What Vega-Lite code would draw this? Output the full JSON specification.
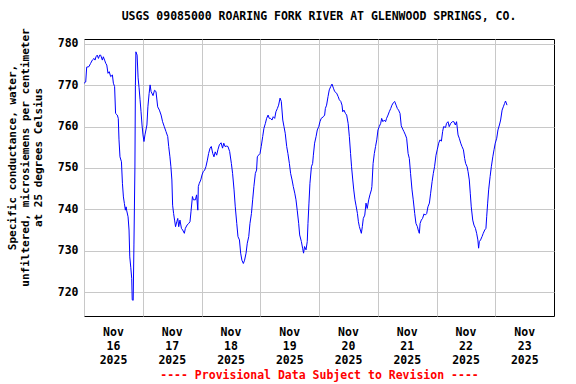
{
  "$schema": "https://vega.github.io/schema/vega-lite/v6.json",
  "width": 470,
  "height": 277,
  "autosize": {"type": "none"},
  "padding": {"left": 84, "top": 39, "right": 22, "bottom": 68},
  "background": "white",
  "title": {
    "text": "USGS 09085000 ROARING FORK RIVER AT GLENWOOD SPRINGS, CO.",
    "font": "DejaVu Sans Mono",
    "fontSize": 11.5,
    "fontWeight": "bold",
    "color": "black",
    "anchor": "middle",
    "offset": 5
  },
  "config": {
    "view": {"stroke": "black", "strokeWidth": 1},
    "axis": {
      "labelFont": "DejaVu Sans Mono",
      "labelFontWeight": "bold",
      "labelFontSize": 11.5,
      "labelColor": "black",
      "titleFont": "DejaVu Sans Mono",
      "titleFontWeight": "bold",
      "titleFontSize": 11,
      "titleColor": "black",
      "gridColor": "#c8c8c8",
      "gridWidth": 1,
      "gridOpacity": 1,
      "ticks": false,
      "domain": false
    }
  },
  "data": {
    "values": [
      {"t": "2025-11-16T00:00", "v": 770.5},
      {"t": "2025-11-16T00:42", "v": 770.8},
      {"t": "2025-11-16T01:06", "v": 774.4},
      {"t": "2025-11-16T02:00", "v": 774.5},
      {"t": "2025-11-16T02:42", "v": 775.3},
      {"t": "2025-11-16T03:24", "v": 776.1},
      {"t": "2025-11-16T04:06", "v": 776.5},
      {"t": "2025-11-16T04:30", "v": 776.1},
      {"t": "2025-11-16T04:54", "v": 776.9},
      {"t": "2025-11-16T05:24", "v": 777.3},
      {"t": "2025-11-16T05:54", "v": 776.5},
      {"t": "2025-11-16T06:24", "v": 777.3},
      {"t": "2025-11-16T06:48", "v": 777.3},
      {"t": "2025-11-16T07:30", "v": 776.1},
      {"t": "2025-11-16T07:54", "v": 776.9},
      {"t": "2025-11-16T08:24", "v": 776.1},
      {"t": "2025-11-16T08:54", "v": 775.3},
      {"t": "2025-11-16T09:18", "v": 774.9},
      {"t": "2025-11-16T09:48", "v": 772.9},
      {"t": "2025-11-16T10:18", "v": 773.3},
      {"t": "2025-11-16T10:54", "v": 772.1},
      {"t": "2025-11-16T11:36", "v": 772.5},
      {"t": "2025-11-16T12:00", "v": 770.5},
      {"t": "2025-11-16T12:30", "v": 769.7},
      {"t": "2025-11-16T12:54", "v": 763.2},
      {"t": "2025-11-16T13:36", "v": 762.8},
      {"t": "2025-11-16T14:00", "v": 762.0},
      {"t": "2025-11-16T14:18", "v": 756.8},
      {"t": "2025-11-16T14:42", "v": 752.7},
      {"t": "2025-11-16T15:18", "v": 751.5},
      {"t": "2025-11-16T15:42", "v": 746.3},
      {"t": "2025-11-16T16:06", "v": 743.0},
      {"t": "2025-11-16T16:30", "v": 741.4},
      {"t": "2025-11-16T16:54", "v": 739.8},
      {"t": "2025-11-16T17:12", "v": 740.6},
      {"t": "2025-11-16T17:24", "v": 739.8},
      {"t": "2025-11-16T18:00", "v": 738.2},
      {"t": "2025-11-16T18:24", "v": 735.0},
      {"t": "2025-11-16T18:42", "v": 728.5},
      {"t": "2025-11-16T19:06", "v": 726.0},
      {"t": "2025-11-16T19:30", "v": 723.3},
      {"t": "2025-11-16T19:42", "v": 718.1},
      {"t": "2025-11-16T20:06", "v": 718.0},
      {"t": "2025-11-16T20:24", "v": 731.6},
      {"t": "2025-11-16T20:48", "v": 750.0},
      {"t": "2025-11-16T21:00", "v": 770.0},
      {"t": "2025-11-16T21:12", "v": 778.1},
      {"t": "2025-11-16T21:42", "v": 777.3},
      {"t": "2025-11-16T22:06", "v": 771.8},
      {"t": "2025-11-16T22:30", "v": 769.4},
      {"t": "2025-11-16T22:54", "v": 766.5},
      {"t": "2025-11-16T23:18", "v": 763.6},
      {"t": "2025-11-16T23:42", "v": 760.4},
      {"t": "2025-11-17T00:06", "v": 758.0},
      {"t": "2025-11-17T00:30", "v": 756.4},
      {"t": "2025-11-17T00:54", "v": 758.0},
      {"t": "2025-11-17T01:42", "v": 760.4},
      {"t": "2025-11-17T02:06", "v": 764.8},
      {"t": "2025-11-17T02:36", "v": 768.0},
      {"t": "2025-11-17T03:00", "v": 770.1},
      {"t": "2025-11-17T03:24", "v": 768.5},
      {"t": "2025-11-17T04:12", "v": 767.5},
      {"t": "2025-11-17T04:48", "v": 768.8},
      {"t": "2025-11-17T05:24", "v": 768.5},
      {"t": "2025-11-17T06:06", "v": 764.8},
      {"t": "2025-11-17T06:48", "v": 764.0},
      {"t": "2025-11-17T07:30", "v": 762.8},
      {"t": "2025-11-17T08:06", "v": 761.2},
      {"t": "2025-11-17T08:48", "v": 760.0},
      {"t": "2025-11-17T09:30", "v": 758.8},
      {"t": "2025-11-17T10:12", "v": 757.6},
      {"t": "2025-11-17T10:36", "v": 755.2},
      {"t": "2025-11-17T11:06", "v": 752.7},
      {"t": "2025-11-17T11:30", "v": 750.3},
      {"t": "2025-11-17T11:54", "v": 747.1},
      {"t": "2025-11-17T12:12", "v": 741.0},
      {"t": "2025-11-17T12:36", "v": 739.0},
      {"t": "2025-11-17T13:00", "v": 737.4},
      {"t": "2025-11-17T13:24", "v": 735.8},
      {"t": "2025-11-17T13:54", "v": 737.0},
      {"t": "2025-11-17T14:18", "v": 737.8},
      {"t": "2025-11-17T14:42", "v": 735.8},
      {"t": "2025-11-17T15:12", "v": 737.4},
      {"t": "2025-11-17T15:48", "v": 735.4},
      {"t": "2025-11-17T16:18", "v": 735.0},
      {"t": "2025-11-17T17:00", "v": 734.2},
      {"t": "2025-11-17T17:24", "v": 735.4},
      {"t": "2025-11-17T18:06", "v": 736.2},
      {"t": "2025-11-17T18:48", "v": 736.6},
      {"t": "2025-11-17T19:18", "v": 737.0},
      {"t": "2025-11-17T19:42", "v": 739.4},
      {"t": "2025-11-17T20:18", "v": 743.1},
      {"t": "2025-11-17T20:42", "v": 742.3},
      {"t": "2025-11-17T21:30", "v": 742.3},
      {"t": "2025-11-17T22:00", "v": 743.5},
      {"t": "2025-11-17T22:30", "v": 739.8},
      {"t": "2025-11-17T22:42", "v": 745.5},
      {"t": "2025-11-17T23:06", "v": 746.3},
      {"t": "2025-11-17T23:42", "v": 747.1},
      {"t": "2025-11-18T00:12", "v": 748.3},
      {"t": "2025-11-18T00:42", "v": 749.1},
      {"t": "2025-11-18T01:18", "v": 749.5},
      {"t": "2025-11-18T01:48", "v": 750.3},
      {"t": "2025-11-18T02:24", "v": 751.9},
      {"t": "2025-11-18T02:54", "v": 753.5},
      {"t": "2025-11-18T03:30", "v": 754.8},
      {"t": "2025-11-18T04:00", "v": 755.2},
      {"t": "2025-11-18T04:36", "v": 753.5},
      {"t": "2025-11-18T05:06", "v": 752.7},
      {"t": "2025-11-18T05:36", "v": 753.9},
      {"t": "2025-11-18T06:12", "v": 753.1},
      {"t": "2025-11-18T06:42", "v": 754.4},
      {"t": "2025-11-18T07:18", "v": 755.6},
      {"t": "2025-11-18T08:00", "v": 756.1},
      {"t": "2025-11-18T08:36", "v": 754.8},
      {"t": "2025-11-18T09:06", "v": 756.0},
      {"t": "2025-11-18T09:36", "v": 755.2},
      {"t": "2025-11-18T10:18", "v": 755.3},
      {"t": "2025-11-18T10:48", "v": 755.2},
      {"t": "2025-11-18T11:30", "v": 754.0},
      {"t": "2025-11-18T12:12", "v": 751.1},
      {"t": "2025-11-18T12:42", "v": 748.7},
      {"t": "2025-11-18T13:18", "v": 744.7},
      {"t": "2025-11-18T13:48", "v": 740.6},
      {"t": "2025-11-18T14:24", "v": 736.6},
      {"t": "2025-11-18T14:54", "v": 733.4},
      {"t": "2025-11-18T15:30", "v": 732.6},
      {"t": "2025-11-18T16:00", "v": 729.4},
      {"t": "2025-11-18T16:30", "v": 727.7},
      {"t": "2025-11-18T17:06", "v": 726.9},
      {"t": "2025-11-18T17:36", "v": 727.7},
      {"t": "2025-11-18T18:12", "v": 729.4},
      {"t": "2025-11-18T18:42", "v": 731.8},
      {"t": "2025-11-18T19:18", "v": 733.4},
      {"t": "2025-11-18T19:48", "v": 736.6},
      {"t": "2025-11-18T20:24", "v": 739.0},
      {"t": "2025-11-18T20:54", "v": 742.3},
      {"t": "2025-11-18T21:24", "v": 745.5},
      {"t": "2025-11-18T22:00", "v": 748.7},
      {"t": "2025-11-18T22:30", "v": 749.5},
      {"t": "2025-11-18T22:48", "v": 752.7},
      {"t": "2025-11-18T23:18", "v": 753.1},
      {"t": "2025-11-18T23:54", "v": 753.5},
      {"t": "2025-11-19T00:24", "v": 755.2},
      {"t": "2025-11-19T01:00", "v": 757.6},
      {"t": "2025-11-19T01:30", "v": 759.6},
      {"t": "2025-11-19T02:06", "v": 760.8},
      {"t": "2025-11-19T02:36", "v": 762.0},
      {"t": "2025-11-19T03:12", "v": 762.8},
      {"t": "2025-11-19T03:42", "v": 762.0},
      {"t": "2025-11-19T04:12", "v": 762.0},
      {"t": "2025-11-19T04:48", "v": 761.6},
      {"t": "2025-11-19T05:18", "v": 762.4},
      {"t": "2025-11-19T05:54", "v": 762.0},
      {"t": "2025-11-19T06:24", "v": 763.6},
      {"t": "2025-11-19T07:00", "v": 764.4},
      {"t": "2025-11-19T07:30", "v": 765.2},
      {"t": "2025-11-19T08:06", "v": 766.9},
      {"t": "2025-11-19T08:36", "v": 766.1},
      {"t": "2025-11-19T09:12", "v": 761.6},
      {"t": "2025-11-19T09:42", "v": 760.0},
      {"t": "2025-11-19T10:12", "v": 758.4},
      {"t": "2025-11-19T10:48", "v": 755.2},
      {"t": "2025-11-19T11:18", "v": 753.5},
      {"t": "2025-11-19T11:54", "v": 751.1},
      {"t": "2025-11-19T12:24", "v": 748.7},
      {"t": "2025-11-19T13:00", "v": 747.1},
      {"t": "2025-11-19T13:30", "v": 745.5},
      {"t": "2025-11-19T14:06", "v": 743.9},
      {"t": "2025-11-19T14:36", "v": 742.3},
      {"t": "2025-11-19T15:06", "v": 739.8},
      {"t": "2025-11-19T15:42", "v": 736.6},
      {"t": "2025-11-19T16:06", "v": 733.8},
      {"t": "2025-11-19T16:48", "v": 732.2},
      {"t": "2025-11-19T17:18", "v": 730.6},
      {"t": "2025-11-19T17:42", "v": 729.4},
      {"t": "2025-11-19T18:06", "v": 731.0},
      {"t": "2025-11-19T18:42", "v": 730.2},
      {"t": "2025-11-19T19:12", "v": 732.2},
      {"t": "2025-11-19T19:30", "v": 736.6},
      {"t": "2025-11-19T19:54", "v": 741.5},
      {"t": "2025-11-19T20:18", "v": 746.3},
      {"t": "2025-11-19T20:54", "v": 750.3},
      {"t": "2025-11-19T21:24", "v": 751.1},
      {"t": "2025-11-19T21:42", "v": 753.1},
      {"t": "2025-11-19T22:12", "v": 756.0},
      {"t": "2025-11-19T22:48", "v": 757.6},
      {"t": "2025-11-19T23:18", "v": 759.2},
      {"t": "2025-11-19T23:54", "v": 760.0},
      {"t": "2025-11-20T00:24", "v": 761.2},
      {"t": "2025-11-20T00:54", "v": 762.0},
      {"t": "2025-11-20T01:48", "v": 762.4},
      {"t": "2025-11-20T02:18", "v": 762.8},
      {"t": "2025-11-20T02:36", "v": 764.4},
      {"t": "2025-11-20T03:06", "v": 765.2},
      {"t": "2025-11-20T03:42", "v": 767.3},
      {"t": "2025-11-20T04:12", "v": 768.9},
      {"t": "2025-11-20T04:48", "v": 769.7},
      {"t": "2025-11-20T05:18", "v": 770.3},
      {"t": "2025-11-20T05:54", "v": 769.3},
      {"t": "2025-11-20T06:24", "v": 768.5},
      {"t": "2025-11-20T07:12", "v": 768.1},
      {"t": "2025-11-20T07:48", "v": 767.3},
      {"t": "2025-11-20T08:18", "v": 766.5},
      {"t": "2025-11-20T08:54", "v": 766.1},
      {"t": "2025-11-20T09:24", "v": 765.2},
      {"t": "2025-11-20T09:42", "v": 763.6},
      {"t": "2025-11-20T10:12", "v": 764.0},
      {"t": "2025-11-20T10:48", "v": 763.2},
      {"t": "2025-11-20T11:18", "v": 762.8},
      {"t": "2025-11-20T11:54", "v": 760.8},
      {"t": "2025-11-20T12:24", "v": 757.6},
      {"t": "2025-11-20T12:54", "v": 753.5},
      {"t": "2025-11-20T13:18", "v": 750.3},
      {"t": "2025-11-20T13:48", "v": 747.1},
      {"t": "2025-11-20T14:12", "v": 744.7},
      {"t": "2025-11-20T14:42", "v": 742.3},
      {"t": "2025-11-20T15:06", "v": 741.0},
      {"t": "2025-11-20T15:42", "v": 739.0},
      {"t": "2025-11-20T16:06", "v": 737.0},
      {"t": "2025-11-20T16:30", "v": 735.8},
      {"t": "2025-11-20T16:54", "v": 735.0},
      {"t": "2025-11-20T17:18", "v": 734.2},
      {"t": "2025-11-20T17:42", "v": 735.8},
      {"t": "2025-11-20T18:06", "v": 737.8},
      {"t": "2025-11-20T18:42", "v": 738.6},
      {"t": "2025-11-20T19:12", "v": 741.5},
      {"t": "2025-11-20T19:42", "v": 740.2},
      {"t": "2025-11-20T20:18", "v": 742.3},
      {"t": "2025-11-20T20:48", "v": 743.5},
      {"t": "2025-11-20T21:24", "v": 744.7},
      {"t": "2025-11-20T21:36", "v": 745.5},
      {"t": "2025-11-20T22:06", "v": 751.1},
      {"t": "2025-11-20T22:36", "v": 753.5},
      {"t": "2025-11-20T23:06", "v": 755.2},
      {"t": "2025-11-20T23:36", "v": 756.8},
      {"t": "2025-11-21T00:06", "v": 759.2},
      {"t": "2025-11-21T00:36", "v": 760.0},
      {"t": "2025-11-21T01:12", "v": 760.8},
      {"t": "2025-11-21T01:36", "v": 762.0},
      {"t": "2025-11-21T02:06", "v": 761.2},
      {"t": "2025-11-21T02:42", "v": 761.6},
      {"t": "2025-11-21T03:12", "v": 761.2},
      {"t": "2025-11-21T03:36", "v": 762.0},
      {"t": "2025-11-21T04:12", "v": 762.8},
      {"t": "2025-11-21T04:42", "v": 763.6},
      {"t": "2025-11-21T05:18", "v": 764.4},
      {"t": "2025-11-21T05:48", "v": 765.2},
      {"t": "2025-11-21T06:24", "v": 765.8},
      {"t": "2025-11-21T06:54", "v": 766.1},
      {"t": "2025-11-21T07:30", "v": 765.2},
      {"t": "2025-11-21T08:00", "v": 764.4},
      {"t": "2025-11-21T08:30", "v": 764.0},
      {"t": "2025-11-21T09:06", "v": 763.2},
      {"t": "2025-11-21T09:36", "v": 760.2},
      {"t": "2025-11-21T10:12", "v": 759.4},
      {"t": "2025-11-21T10:42", "v": 758.8},
      {"t": "2025-11-21T11:18", "v": 758.0},
      {"t": "2025-11-21T11:48", "v": 757.2},
      {"t": "2025-11-21T12:24", "v": 753.5},
      {"t": "2025-11-21T12:54", "v": 752.3},
      {"t": "2025-11-21T13:24", "v": 748.7},
      {"t": "2025-11-21T14:00", "v": 744.7},
      {"t": "2025-11-21T14:30", "v": 742.3},
      {"t": "2025-11-21T15:06", "v": 739.0},
      {"t": "2025-11-21T15:36", "v": 736.6},
      {"t": "2025-11-21T16:12", "v": 735.8},
      {"t": "2025-11-21T16:42", "v": 734.6},
      {"t": "2025-11-21T17:00", "v": 734.2},
      {"t": "2025-11-21T17:18", "v": 736.6},
      {"t": "2025-11-21T17:48", "v": 737.4},
      {"t": "2025-11-21T18:18", "v": 737.8},
      {"t": "2025-11-21T18:54", "v": 738.9},
      {"t": "2025-11-21T19:24", "v": 738.6},
      {"t": "2025-11-21T20:00", "v": 739.0},
      {"t": "2025-11-21T20:30", "v": 740.6},
      {"t": "2025-11-21T21:06", "v": 741.5},
      {"t": "2025-11-21T21:36", "v": 743.9},
      {"t": "2025-11-21T22:12", "v": 746.7},
      {"t": "2025-11-21T22:42", "v": 748.7},
      {"t": "2025-11-21T23:12", "v": 750.3},
      {"t": "2025-11-21T23:48", "v": 753.1},
      {"t": "2025-11-22T00:18", "v": 754.4},
      {"t": "2025-11-22T00:54", "v": 756.0},
      {"t": "2025-11-22T01:24", "v": 756.8},
      {"t": "2025-11-22T02:00", "v": 756.5},
      {"t": "2025-11-22T02:30", "v": 758.8},
      {"t": "2025-11-22T02:54", "v": 760.0},
      {"t": "2025-11-22T03:42", "v": 759.8},
      {"t": "2025-11-22T04:06", "v": 760.8},
      {"t": "2025-11-22T04:42", "v": 761.2},
      {"t": "2025-11-22T05:12", "v": 760.0},
      {"t": "2025-11-22T05:48", "v": 760.8},
      {"t": "2025-11-22T06:30", "v": 761.2},
      {"t": "2025-11-22T07:06", "v": 761.2},
      {"t": "2025-11-22T07:42", "v": 760.4},
      {"t": "2025-11-22T08:12", "v": 761.2},
      {"t": "2025-11-22T08:48", "v": 758.0},
      {"t": "2025-11-22T09:18", "v": 757.2},
      {"t": "2025-11-22T09:54", "v": 756.0},
      {"t": "2025-11-22T10:24", "v": 755.2},
      {"t": "2025-11-22T11:00", "v": 754.4},
      {"t": "2025-11-22T11:30", "v": 752.3},
      {"t": "2025-11-22T11:54", "v": 751.1},
      {"t": "2025-11-22T12:30", "v": 750.3},
      {"t": "2025-11-22T12:54", "v": 749.1},
      {"t": "2025-11-22T13:24", "v": 747.1},
      {"t": "2025-11-22T13:48", "v": 743.9},
      {"t": "2025-11-22T14:12", "v": 740.6},
      {"t": "2025-11-22T14:48", "v": 737.4},
      {"t": "2025-11-22T15:18", "v": 736.2},
      {"t": "2025-11-22T15:54", "v": 735.4},
      {"t": "2025-11-22T16:24", "v": 734.2},
      {"t": "2025-11-22T16:54", "v": 732.6},
      {"t": "2025-11-22T17:12", "v": 730.6},
      {"t": "2025-11-22T17:30", "v": 732.2},
      {"t": "2025-11-22T18:00", "v": 732.6},
      {"t": "2025-11-22T18:36", "v": 733.4},
      {"t": "2025-11-22T19:06", "v": 734.2},
      {"t": "2025-11-22T19:42", "v": 735.0},
      {"t": "2025-11-22T20:12", "v": 735.4},
      {"t": "2025-11-22T20:30", "v": 738.2},
      {"t": "2025-11-22T20:54", "v": 741.5},
      {"t": "2025-11-22T21:18", "v": 744.7},
      {"t": "2025-11-22T21:54", "v": 747.9},
      {"t": "2025-11-22T22:24", "v": 750.3},
      {"t": "2025-11-22T23:00", "v": 752.7},
      {"t": "2025-11-22T23:30", "v": 754.4},
      {"t": "2025-11-23T00:00", "v": 756.0},
      {"t": "2025-11-23T00:36", "v": 757.2},
      {"t": "2025-11-23T01:06", "v": 759.2},
      {"t": "2025-11-23T01:42", "v": 760.4},
      {"t": "2025-11-23T02:12", "v": 761.6},
      {"t": "2025-11-23T02:48", "v": 764.0},
      {"t": "2025-11-23T03:18", "v": 764.8},
      {"t": "2025-11-23T03:48", "v": 765.6},
      {"t": "2025-11-23T04:12", "v": 766.2},
      {"t": "2025-11-23T04:48", "v": 765.2}
    ]
  },
  "mark": {"type": "line", "color": "#0000ff", "strokeWidth": 1, "clip": true},
  "encoding": {
    "x": {
      "field": "t",
      "type": "temporal",
      "scale": {
        "domain": [
          {"year": 2025, "month": 11, "date": 16},
          {"year": 2025, "month": 11, "date": 24}
        ]
      },
      "axis": {
        "values": [
          {"year": 2025, "month": 11, "date": 16},
          {"year": 2025, "month": 11, "date": 17},
          {"year": 2025, "month": 11, "date": 18},
          {"year": 2025, "month": 11, "date": 19},
          {"year": 2025, "month": 11, "date": 20},
          {"year": 2025, "month": 11, "date": 21},
          {"year": 2025, "month": 11, "date": 22},
          {"year": 2025, "month": 11, "date": 23}
        ],
        "labelExpr": "[timeFormat(datum.value, '%b'), timeFormat(datum.value, '%d'), timeFormat(datum.value, '%Y')]",
        "labelOffset": 29,
        "labelPadding": 10,
        "labelLineHeight": 14,
        "labelFlush": false,
        "labelOverlap": false,
        "labelBaseline": "top",
        "title": "---- Provisional Data Subject to Revision ----",
        "titleColor": "#ff0000",
        "titleFontSize": 11.5,
        "titleY": 59,
        "titleBaseline": "middle"
      }
    },
    "y": {
      "field": "v",
      "type": "quantitative",
      "scale": {"domain": [714.2, 781.2], "nice": false, "zero": false},
      "axis": {
        "values": [720, 730, 740, 750, 760, 770, 780],
        "labelPadding": 6,
        "title": ["Specific conductance, water,", "unfiltered, microsiemens per centimeter", "at 25 degrees Celsius"],
        "titleLineHeight": 13,
        "titleBaseline": "top",
        "titleAlign": "center",
        "titleAngle": -90,
        "titleX": -78,
        "titleY": 118
      }
    }
  }
}
